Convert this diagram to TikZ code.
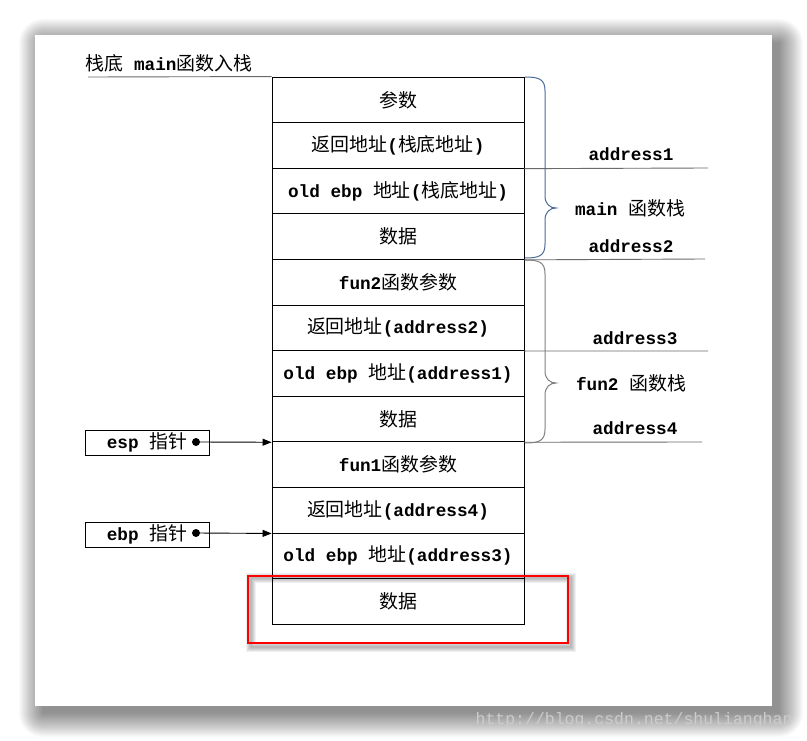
\documentclass[tikz,border=0pt]{standalone}
\usepackage{fontspec}
\setmainfont{Liberation Mono}
\newfontfamily\cjk[Scale=1.07]{Noto Sans CJK SC}
\usetikzlibrary{arrows.meta}
\newcommand{\zh}[1]{{\cjk\mdseries #1}}
\definecolor{bracea}{HTML}{4A6A9A}
\definecolor{braceb}{HTML}{808080}
\definecolor{linegray}{HTML}{6A6A6A}
\begin{document}
\begin{tikzpicture}[x=1pt,y=-1pt,
  font=\fontsize{17.7pt}{20pt}\selectfont\bfseries,
  cell/.style={draw=black, line width=0.9pt, minimum width=252pt, minimum height=45.6pt, inner sep=0pt},
  ptrbox/.style={draw=black, line width=0.9pt, minimum width=124pt, minimum height=25pt, inner sep=0pt},
  sepline/.style={draw=linegray, line width=0.9pt},
  lbl/.style={inner sep=0pt},
  ptrarrow/.style={draw=black, line width=0.9pt, -{Triangle[length=9pt,width=7pt]}},
  bracestyle/.style={line width=1pt}
]
\useasboundingbox (0,0) rectangle (807,741);
\fill[white] (0,0) rectangle (807,741);
% page shadow
\foreach \k in {0,1,...,24}
  \fill[black, opacity=0.02, rounded corners=\k pt] ({43-\k},{43-\k}) rectangle ({779+\k},{713+\k});
\fill[white] (35,35) rectangle (772,706);

% watermark
\node[anchor=east, text=gray!40, font=\fontsize{16.5pt}{18pt}\selectfont\mdseries] (wm) at (796,720) {http://blog.csdn.net/shulianghan};

% top label and line
\node[lbl] (top) at (169,63) {\zh{栈底} main\zh{函数入栈}};

% stack cells
\node[cell] (r1) at (398,99.8) {\zh{参数}};
\node[cell] (r2) at (398,145.4) {\zh{返回地址}(\zh{栈底地址})};
\node[cell] (r3) at (398,191.0) {old ebp \zh{地址}(\zh{栈底地址})};
\node[cell] (r4) at (398,236.6) {\zh{数据}};
\node[cell] (r5) at (398,282.2) {fun2\zh{函数参数}};
\node[cell] (r6) at (398,327.8) {\zh{返回地址}(address2)};
\node[cell] (r7) at (398,373.4) {old ebp \zh{地址}(address1)};
\node[cell] (r8) at (398,419.0) {\zh{数据}};
\node[cell] (r9) at (398,464.6) {fun1\zh{函数参数}};
\node[cell] (r10) at (398,510.2) {\zh{返回地址}(address4)};
\node[cell] (r11) at (398,555.8) {old ebp \zh{地址}(address3)};
\node[cell] (r12) at (398,601.4) {\zh{数据}};

\coordinate (tl) at (88,77);
\draw[sepline] (tl) -- (r1.north west);

% right separator lines
\coordinate (e1) at (708,168);
\coordinate (e2) at (705,259);
\coordinate (e3) at (708,351);
\coordinate (e4) at (702,442);
\draw[sepline] (r2.south east) -- (e1);
\draw[sepline] (r4.south east) -- (e2);
\draw[sepline] (r6.south east) -- (e3);
\draw[sepline] (r8.south east) -- (e4);

% braces
\draw[bracestyle, draw=bracea] (525,77) .. controls +(14,0) and +(0,-12) .. (545,91)
  -- (545,196) .. controls +(0,8) and +(-6,0) .. (556,208)
  .. controls +(-6,0) and +(0,-8) .. (545,220)
  -- (545,244) .. controls +(0,12) and +(14,0) .. (525,258);
\draw[bracestyle, draw=braceb] (525,260) .. controls +(14,0) and +(0,-12) .. (545,274)
  -- (545,371) .. controls +(0,8) and +(-6,0) .. (556,383)
  .. controls +(-6,0) and +(0,-8) .. (545,395)
  -- (545,429) .. controls +(0,12) and +(14,0) .. (525,443);

% right labels
\node[lbl] (a1) at (631,154) {address1};
\node[lbl] (m1) at (630,208) {main \zh{函数栈}};
\node[lbl] (a2) at (631,246) {address2};
\node[lbl] (a3) at (635,338) {address3};
\node[lbl] (f2) at (631,383) {fun2 \zh{函数栈}};
\node[lbl] (a4) at (635,428) {address4};

% pointers
\node[ptrbox] (esp) at (147,442.5) {esp \zh{指针}};
\coordinate (espdot) at (196,442);
\fill (espdot) circle (4pt);
\draw[ptrarrow] (espdot) -- (r8.south west);

\node[ptrbox] (ebp) at (147,534.5) {ebp \zh{指针}};
\coordinate (ebpdot) at (196,533);
\fill (ebpdot) circle (4pt);
\draw[ptrarrow] (ebpdot) -- (r10.south west);

% highlight rectangle with shadow
\foreach \w in {2,4,6,8,10}
  \draw[black, opacity=0.06, line width=\w pt] (251,578) rectangle (571,647);
\node[draw=red, line width=2pt, minimum width=320pt, minimum height=67pt, inner sep=0pt] (hl) at (408,609.5) {};
\end{tikzpicture}
\end{document}
